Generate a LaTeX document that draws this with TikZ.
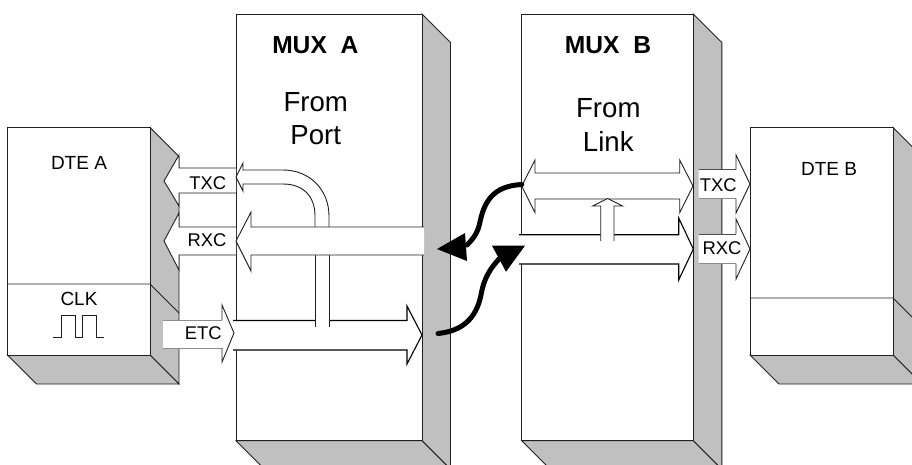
\documentclass[tikz,border=0pt]{standalone}
\usepackage{fontspec}
\setmainfont{Liberation Sans}
\definecolor{sidegrey}{HTML}{C0C0C0}
\definecolor{edgecol}{HTML}{202020}
\tikzset{
  x=1pt,y=-1pt,
  edge/.style={draw=edgecol,line width=0.9pt,line join=miter},
  boxfront/.style={edge,fill=white},
  boxside/.style={edge,fill=sidegrey},
  pipefill/.style={fill=white,draw=none},
  pipeline/.style={draw=edgecol,line width=0.9pt,miter limit=20},
  pipedark/.style={draw=black,line width=1.1pt,miter limit=20},
  shafttop/.style={draw=black!70,line width=0.8pt},
  shaftlow/.style={draw=black!45,line width=0.8pt},
  link/.style={draw=black,line width=5pt,line cap=round},
  linkhead/.style={fill=black,draw=none},
  lab/.style={anchor=base,inner sep=0pt,outer sep=0pt},
  title/.style={lab,font=\fontsize{24.6}{28}\selectfont\bfseries},
  big/.style={lab,font=\fontsize{27.6}{32}\selectfont},
  small/.style={lab,font=\fontsize{19}{22}\selectfont},
  sig/.style={lab,font=\fontsize{18.4}{22}\selectfont},
}
\newcommand{\solidbox}[5]{% x0 y0 x1 y1 depth
  \path[boxside] (#3,#2) -- ({#3+#5},{#2+#5}) -- ({#3+#5},{#4+#5}) -- (#3,#4) -- cycle;
  \path[boxside] (#1,#4) -- (#3,#4) -- ({#3+#5},{#4+#5}) -- ({#1+#5},{#4+#5}) -- cycle;
  \path[boxfront] (#1,#2) rectangle (#3,#4);
}
\begin{document}
\begin{tikzpicture}
\useasboundingbox (0,0) rectangle (912,464);
\clip (0,0) rectangle (912,464);

% boxes
\solidbox{7.5}{127.5}{150}{355}{29}
\draw[edge] (7.5,284) -- (150,284) -- (179,313);
\solidbox{236}{14}{422}{440.7}{28.5}
\solidbox{521.7}{14}{693.3}{440.7}{28.5}
\solidbox{750}{127.5}{893}{355}{29}
\draw[edge] (750,298) -- (893,298) -- (922,327);

% clock wave
\draw[edge,line width=0.8pt] (53.3,337.7) -- (61,337.7) -- (61,315.7) -- (75.3,315.7) -- (75.3,337.7) -- (82.7,337.7) -- (82.7,315.7) -- (96.7,315.7) -- (96.7,337.7) -- (104,337.7);

% MUX A: ETC through arrow
\path[pipefill] (233,320.5) -- (407,320.5) -- (407,306) -- (422,335) -- (407,364) -- (407,350) -- (233,350) -- cycle;
\draw[pipedark] (233,320.5) -- (407,320.5) -- (407,306) -- (422,335) -- (407,364) -- (407,350) -- (233,350);
% ETC entry arrow
\path[pipefill] (163,320) -- (222,320) -- (222,305) -- (234,333) -- (222,362) -- (222,348) -- (163,348) -- cycle;
\draw[shaftlow] (163,320) -- (222,320) (163,348) -- (222,348);
\draw[pipeline] (222,320) -- (222,305) -- (234,333) -- (222,362) -- (222,348);

% MUX A: vertical pipe below RXC
\path[pipefill] (315,255) rectangle (329,327);
\draw[pipeline] (315,255) -- (315,327) (329,255) -- (329,327);

% TXC outer
\path[pipefill] (164,181) -- (179,155) -- (179,168) -- (236,168) -- (236,193) -- (179,193) -- (179,206) -- cycle;
\draw[pipeline] (236,168) -- (179,168) -- (179,155) -- (164,181) -- (179,206) -- (179,193) -- (236,193);
% TXC inner curved
\path[pipefill] (236,177) -- (243,163) -- (243,170) -- (283,170) .. controls (310,170) and (329,190) .. (329,216) -- (329,227) -- (315,227) -- (315,216) .. controls (315,196) and (303,184) .. (283,184) -- (243,184) -- (243,191) -- cycle;
\draw[pipeline] (329,227) -- (329,216) .. controls (329,190) and (310,170) .. (283,170) -- (243,170) -- (243,163) -- (236,177) -- (243,191) -- (243,184) -- (283,184) .. controls (303,184) and (315,196) .. (315,216) -- (315,227);

% RXC outer
\path[pipefill] (164,241) -- (179,213) -- (179,227) -- (236,227) -- (236,255) -- (179,255) -- (179,270) -- cycle;
\draw[pipeline] (236,227) -- (179,227) -- (179,213) -- (164,241) -- (179,270) -- (179,255) -- (236,255);
% RXC inner
\path[pipefill] (236,241) -- (251,212) -- (251,227) -- (424,227) -- (424,255) -- (251,255) -- (251,271) -- cycle;
\draw[pipeline] (424,227) -- (251,227) -- (251,212) -- (236,241) -- (251,271) -- (251,255) -- (424,255);

% MUX B: double arrow
\path[pipefill] (521.7,186) -- (535,160) -- (535,173) -- (679.7,173) -- (679.7,160) -- (693,186) -- (679.7,212.7) -- (679.7,199) -- (535,199) -- (535,212.7) -- cycle;
\draw[pipeline] (521.7,186) -- (535,160) -- (535,173) -- (679.7,173) -- (679.7,160) -- (693,186) -- (679.7,212.7) -- (679.7,199) -- (535,199) -- (535,212.7) -- cycle;
% MUX B: RXC through arrow
\path[pipefill] (519,234.7) -- (678.7,234.7) -- (678.7,218) -- (693.3,249) -- (678.7,280) -- (678.7,264) -- (519,264) -- cycle;
\draw[pipedark] (519,234.7) -- (678.7,234.7) -- (678.7,218) -- (693.3,249) -- (678.7,280) -- (678.7,264) -- (519,264);
% MUX B: small up arrow
\path[pipefill] (600.7,241) -- (600.7,206) -- (592.7,206) -- (607.7,198.5) -- (622.7,206) -- (614,206) -- (614,241) -- cycle;
\draw[pipeline] (600.7,241) -- (600.7,206) -- (592.7,206) -- (607.7,198.5) -- (622.7,206) -- (614,206) -- (614,241);

% right TXC / RXC
\path[pipefill] (698.5,169.5) -- (736,169.5) -- (736,155) -- (750,184) -- (736,213) -- (736,198.5) -- (698.5,198.5) -- cycle;
\draw[shafttop] (698.5,169.5) -- (736,169.5);
\draw[shaftlow] (698.5,198.5) -- (736,198.5);
\draw[pipeline] (736,169.5) -- (736,155) -- (750,184) -- (736,213) -- (736,198.5);
\path[pipefill] (698.5,234) -- (736,234) -- (736,219) -- (750,249) -- (736,279) -- (736,263.5) -- (698.5,263.5) -- cycle;
\draw[shafttop] (698.5,234) -- (736,234);
\draw[shaftlow] (698.5,263.5) -- (736,263.5);
\draw[pipeline] (736,234) -- (736,219) -- (750,249) -- (736,279) -- (736,263.5);

% link curves
\coordinate (muxbport) at (521.7,184.5);
\coordinate (muxaend) at (467,245);
\coordinate (muxaout) at (438,333.5);
\coordinate (muxbend) at (502,256);
\draw[link] (muxbport) .. controls (492,186) and (484,203) .. (480,222) .. controls (478,232) and (474,238) .. (muxaend);
\path[linkhead] (437,249) -- (465,233) -- (467,261) -- cycle;
\draw[link] (muxaout) .. controls (462,331) and (476,319) .. (481,295) .. controls (484,278) and (490,268) .. (muxbend);
\path[linkhead] (525,245.7) -- (492,245.7) -- (506,271.7) -- cycle;

% labels
\node[title] (muxa) at (315.3,53) {MUX\hspace{0.278em} A};
\node[big] (froma) at (315.7,111) {From};
\node[big] (port) at (315.7,144.5) {Port};
\node[title] (muxb) at (608,53) {MUX\hspace{0.278em} B};
\node[big] (fromb) at (608.3,117.3) {From};
\node[big] (linkb) at (608.3,151.5) {Link};
\node[small] (dtea) at (79,169.3) {DTE A};
\node[small] (clk) at (79,305) {CLK};
\node[small] (dteb) at (829,175) {DTE B};
\node[sig] (txca) at (207.7,189.3) {TXC};
\node[sig] (rxca) at (207,246.7) {RXC};
\node[sig] (etc) at (203.3,339.3) {ETC};
\node[sig] (txcb) at (718.3,191.7) {TXC};
\node[sig] (rxcb) at (722,254.3) {RXC};
\end{tikzpicture}
\end{document}
